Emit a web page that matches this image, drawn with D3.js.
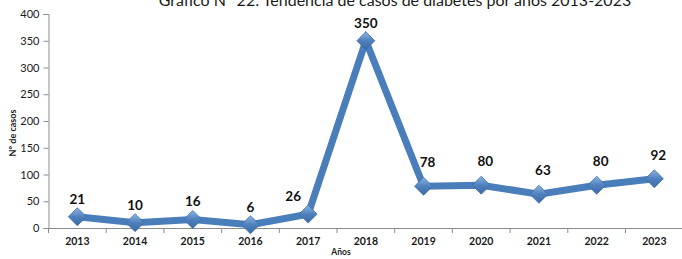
<!DOCTYPE html>
<html>
<head>
<meta charset="utf-8">
<script src="https://cdn.jsdelivr.net/npm/d3@7"></script>
<style>
  body { margin: 0; background: #fff; }
  svg { display: block; font-family: Lato, "Open Sans", sans-serif; }
</style>
</head>
<body>
<svg id="chart" width="682" height="259"></svg>
<script>
// datos del grafico
var years = ["2013","2014","2015","2016","2017","2018","2019","2020","2021","2022","2023"];
var cases = [21, 10, 16, 6, 26, 350, 78, 80, 63, 80, 92];
var yTicks = [0, 50, 100, 150, 200, 250, 300, 350, 400];

var svg = d3.select("#chart");
var plotLeft = 48.5, plotTop = 14, plotBottom = 228;
var bandW = 57.7;

var x = d3.scaleBand().domain(years).range([plotLeft, plotLeft + bandW * years.length]).padding(0);
var y = d3.scaleLinear().domain([0, 400]).range([plotBottom, plotTop]);

// degradado para los rombos
var defs = svg.append("defs");
var grad = defs.append("linearGradient").attr("id", "dg")
  .attr("x1", "0").attr("y1", "0").attr("x2", "0").attr("y2", "1");
grad.append("stop").attr("offset", "0%").attr("stop-color", "#8fb4e3");
grad.append("stop").attr("offset", "50%").attr("stop-color", "#4f81bd");
grad.append("stop").attr("offset", "100%").attr("stop-color", "#3a6aa6");

// titulo (cortado arriba como en el original)
svg.append("text")
  .attr("x", 395).attr("y", 5.5)
  .attr("text-anchor", "middle")
  .attr("font-size", 16)
  .attr("fill", "#1a1a1a")
  .text("Gráfico N° 22: Tendencia de casos de diabetes por años 2013-2023");

// eje Y
var yAxis = svg.append("g")
  .attr("transform", "translate(" + plotLeft + ",0)")
  .call(d3.axisLeft(y).tickValues(yTicks).tickSize(5).tickPadding(4));
yAxis.select(".domain").attr("stroke", "#8c8c8c");
yAxis.selectAll(".tick line").attr("stroke", "#8c8c8c");
yAxis.selectAll(".tick text").attr("font-size", 11).attr("fill", "#1a1a1a")
  .attr("font-family", "Lato, sans-serif");

// eje X
var xAxis = svg.append("g")
  .attr("transform", "translate(0," + plotBottom + ")")
  .call(d3.axisBottom(x).tickSize(0).tickPadding(10));
xAxis.select(".domain").attr("stroke", "#8c8c8c");
xAxis.selectAll(".tick text").attr("font-size", 10.5).attr("font-weight", "bold")
  .attr("fill", "#1a1a1a").attr("font-family", "Lato, sans-serif");
// marcas entre categorias
svg.append("g").selectAll("line")
  .data(years)
  .enter().append("line")
  .attr("x1", function(d){ return x(d); })
  .attr("x2", function(d){ return x(d); })
  .attr("y1", plotBottom).attr("y2", plotBottom + 5)
  .attr("stroke", "#8c8c8c");

// titulos de ejes
svg.append("text")
  .attr("x", 341).attr("y", 255)
  .attr("text-anchor", "middle")
  .attr("font-size", 8.5).attr("font-weight", "bold").attr("fill", "#1a1a1a")
  .text("Años");
svg.append("text")
  .attr("transform", "translate(16,133) rotate(-90)")
  .attr("text-anchor", "middle")
  .attr("font-size", 9).attr("font-weight", "bold").attr("fill", "#1a1a1a")
  .text("Nº de casos");

var cx = function(d, i){ return x(years[i]) + x.bandwidth() / 2; };

// linea
var line = d3.line()
  .x(function(d, i){ return cx(d, i); })
  .y(function(d){ return y(d); });
svg.append("path")
  .datum(cases)
  .attr("d", line)
  .attr("fill", "none")
  .attr("stroke", "#4a7ebb")
  .attr("stroke-width", 7)
  .attr("stroke-linejoin", "miter");

// rombos
svg.append("g").selectAll("path")
  .data(cases)
  .enter().append("path")
  .attr("d", "M0,-9L9,0L0,9L-9,0Z")
  .attr("transform", function(d, i){ return "translate(" + cx(d, i) + "," + y(d) + ")"; })
  .attr("fill", "url(#dg)")
  .attr("stroke", "#3c6da8")
  .attr("stroke-width", 0.8);

// etiquetas de datos
svg.append("g").selectAll("text")
  .data(cases)
  .enter().append("text")
  .attr("x", function(d, i){ return cx(d, i) + (i === 4 ? -15 : (i > 5 ? 4 : 0)); })
  .attr("y", function(d, i){ return y(d) - (i > 5 ? 19 : 13); })
  .attr("text-anchor", "middle")
  .attr("font-size", 13.5).attr("font-weight", "bold").attr("fill", "#111")
  .text(function(d){ return d; });
</script>
</body>
</html>
